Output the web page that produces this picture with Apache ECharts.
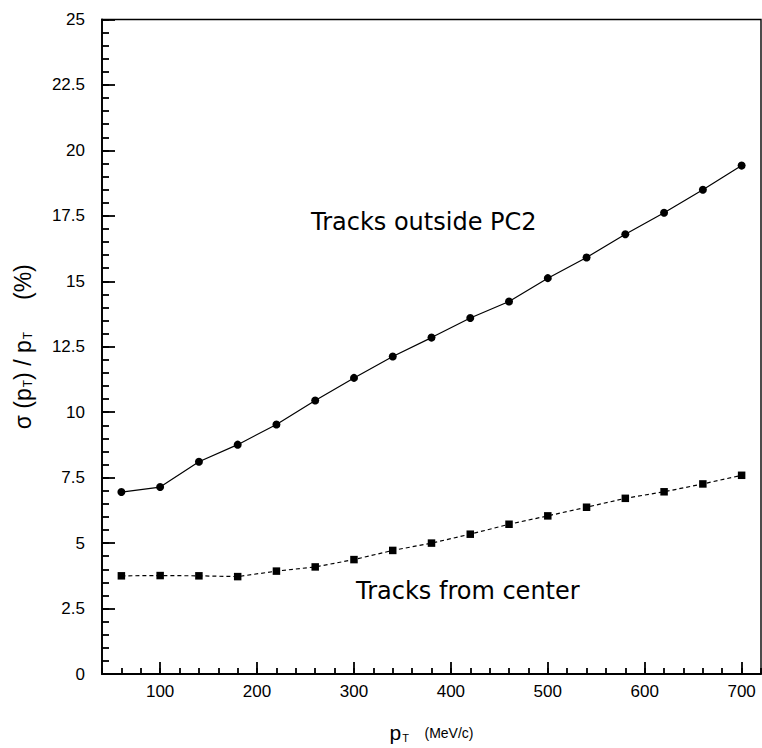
<!DOCTYPE html>
<html>
<head>
<meta charset="utf-8">
<script src="https://cdn.jsdelivr.net/npm/echarts@6/dist/echarts.min.js"></script>
<style>html,body{margin:0;padding:0;background:#fff}#c{width:762px;height:748px}</style>
</head>
<body>
<div id="c"></div>
<script>
var ptValues = [60, 100, 140, 180, 220, 260, 300, 340, 380, 420, 460, 500, 540, 580, 620, 660, 700];
var outsidePC2 = [6.95, 7.14, 8.11, 8.76, 9.53, 10.45, 11.31, 12.13, 12.85, 13.6, 14.23, 15.12, 15.91, 16.8, 17.62, 18.5, 19.42];
var fromCenter = [3.75, 3.76, 3.75, 3.72, 3.93, 4.09, 4.37, 4.72, 5.0, 5.34, 5.72, 6.04, 6.37, 6.71, 6.96, 7.26, 7.59];
var xMajorTicks = [100, 200, 300, 400, 500, 600, 700];
var labelOutside = 'Tracks outside PC2';
var labelCenter = 'Tracks from center';

function pairs(xs, ys) { return xs.map(function (x, i) { return [x, ys[i]]; }); }

var chart = echarts.init(document.getElementById('c'), null, { renderer: 'svg' });
var tickFont = 'Liberation Sans, Arial, sans-serif';
var tickLine = { color: '#000', width: 1.8 };
chart.setOption({
  animation: false,
  backgroundColor: '#fff',
  grid: { left: 102, right: 1, top: 19.5, bottom: 69.5, show: true, borderColor: '#000', borderWidth: 1.4, backgroundColor: 'transparent' },
  xAxis: [{
    type: 'value', min: 40, max: 720,
    axisLine: { show: true, onZero: false, lineStyle: tickLine },
    axisTick: { show: true, inside: true, length: 12, customValues: xMajorTicks, lineStyle: tickLine },
    axisLabel: { customValues: xMajorTicks, color: '#000', fontSize: 17, fontFamily: tickFont, margin: 9 },
    splitLine: { show: false },
    name: '{p|p}{sub|T}{u|    (MeV/c)}',
    nameLocation: 'middle', nameGap: 48,
    nameTextStyle: {
      rich: {
        p: { fontSize: 21, fontFamily: tickFont, color: '#000' },
        sub: { fontSize: 11, fontFamily: tickFont, color: '#000', verticalAlign: 'bottom', padding: [6, 0, 0, 1] },
        u: { fontSize: 14, fontFamily: tickFont, color: '#000' }
      }
    }
  }, {
    type: 'value', min: 40, max: 720, interval: 20, position: 'bottom',
    axisLine: { show: false },
    axisTick: { show: true, inside: true, length: 6, lineStyle: tickLine },
    axisLabel: { show: false },
    splitLine: { show: false }
  }],
  yAxis: [{
    type: 'value', min: 0, max: 25, interval: 2.5, position: 'left',
    axisLine: { show: true, onZero: false, lineStyle: tickLine },
    axisTick: { show: true, inside: true, length: 13, lineStyle: tickLine },
    axisLabel: { color: '#000', fontSize: 17, fontFamily: tickFont, margin: 17 },
    splitLine: { show: false },
    name: '{s|σ (p}{sub|T}{s|) / p}{sub|T}{s|     (%)}',
    nameLocation: 'middle', nameRotate: 90, nameGap: 68,
    nameTextStyle: {
      rich: {
        s: { fontSize: 23, fontFamily: tickFont, color: '#000' },
        sub: { fontSize: 12, fontFamily: tickFont, color: '#000', verticalAlign: 'bottom', padding: [7, 0, 0, 1] }
      }
    }
  }, {
    type: 'value', min: 0, max: 25, interval: 0.5, position: 'left',
    axisLine: { show: false },
    axisTick: { show: true, inside: true, length: 7, lineStyle: tickLine },
    axisLabel: { show: false },
    splitLine: { show: false }
  }],
  graphic: [
    { type: 'text', left: 311, top: 210, style: { text: labelOutside, fontSize: 24, fontFamily: 'DejaVu Sans', fill: '#000' } },
    { type: 'text', left: 356, top: 579, style: { text: labelCenter, fontSize: 24, fontFamily: 'DejaVu Sans', fill: '#000' } }
  ],
  series: [{
    type: 'line', data: pairs(ptValues, outsidePC2),
    symbol: 'circle', symbolSize: 8,
    lineStyle: { color: '#000', width: 1.2 },
    itemStyle: { color: '#000' }
  }, {
    type: 'line', data: pairs(ptValues, fromCenter),
    symbol: 'rect', symbolSize: 7.5,
    lineStyle: { color: '#000', width: 1.2, type: [4, 3] },
    itemStyle: { color: '#000' }
  }]
});
</script>
</body>
</html>
